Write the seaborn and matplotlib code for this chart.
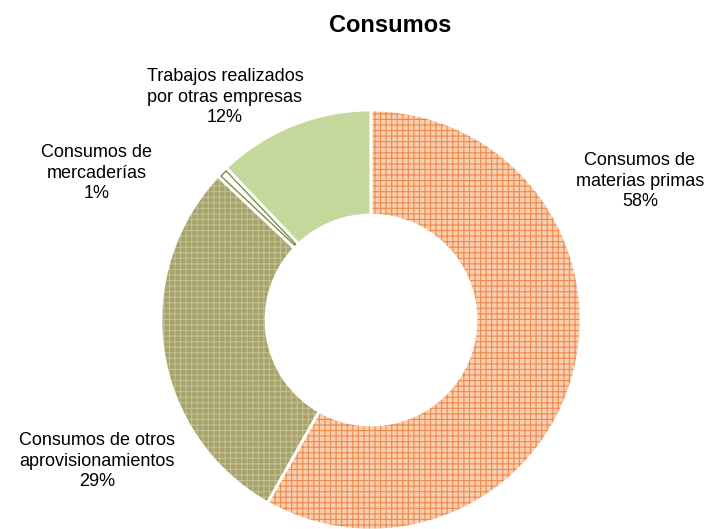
import matplotlib
matplotlib.use("Agg")
import matplotlib.pyplot as plt
from matplotlib.patches import Wedge
import seaborn as sns
import numpy as np

sns.set_theme(style="white")
plt.rcParams['font.family'] = ['Liberation Sans', 'DejaVu Sans']
plt.rcParams['hatch.linewidth'] = 0.8

categories = ["Consumos de\nmaterias primas", "Consumos de otros\naprovisionamientos",
              "Consumos de\nmercaderías", "Trabajos realizados\npor otras empresas"]
values = [58.2, 28.8, 0.9, 12.1]
pct_labels = ["58%", "29%", "1%", "12%"]

face_colors = ["#F9CFAF", "#A6A26C", "#FFFFFF", "#C5D89B"]
hatch_colors = ["#EE8A4E", "#C4C090", "#77933C", "#C5D89B"]
hatches = ["+++", "+++", None, None]
outlined = [False, False, True, False]

W, H = 713, 529
cx, cy, R = 371, 320, 210

fig = plt.figure(figsize=(W / 100, H / 100), dpi=100)
ax = fig.add_axes([0, 0, 1, 1])

wedges, _ = ax.pie(values, startangle=90, counterclock=False, radius=1,
                   wedgeprops=dict(width=0.5, linewidth=0), colors=face_colors)
for w, hc, h, ol in zip(wedges, hatch_colors, hatches, outlined):
    w.set_edgecolor(hc)
    w.set_linewidth(0)
    if h:
        w.set_hatch(h)
    if ol:
        # outline drawn inside the slice only
        edge = Wedge(w.center, w.r, w.theta1, w.theta2, width=w.width,
                     facecolor="none", edgecolor=hc, linewidth=4.2, zorder=2)
        ax.add_patch(edge)
        edge.set_clip_path(w)

# white separators
seps, _ = ax.pie(values, startangle=90, counterclock=False, radius=1,
                 wedgeprops=dict(width=0.5, linewidth=2.0, edgecolor="white", fill=False))
for s in seps:
    s.set_zorder(3)

ax.set_xlim(-cx / R, (W - cx) / R)
ax.set_ylim(-(H - cy) / R, cy / R)
ax.set_aspect('equal')
ax.axis('off')

label_px = [(640, 181), (97, 461), (97, 173), (225, 97)]
for cat, pct, (px, py) in zip(categories, pct_labels, label_px):
    ax.text((px - cx) / R, (cy - py) / R, f"{cat}\n{pct}", ha="center", va="center",
            fontsize=13, linespacing=1.27, color="#000000")

ax.text((390 - cx) / R, (cy - 25) / R, "Consumos", ha="center", va="center",
        fontsize=17, fontweight="bold", color="#000000")

fig.savefig("out.png", dpi=100)
